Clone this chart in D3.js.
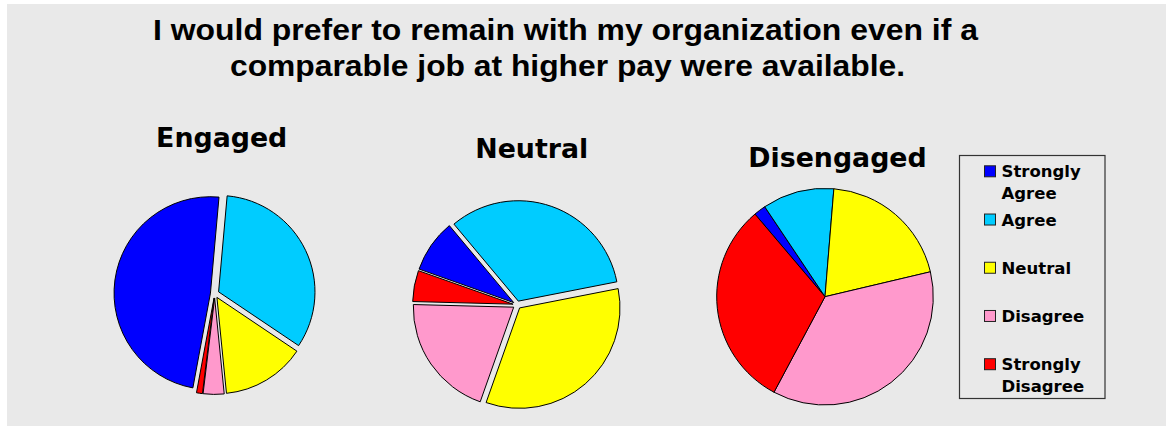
<!DOCTYPE html>
<html>
<head>
<meta charset="utf-8">
<script src="https://cdn.jsdelivr.net/npm/d3@7"></script>
<style>
  html, body { margin: 0; padding: 0; background: #ffffff; }
  svg { display: block; }
</style>
</head>
<body>
<svg id="chart" width="1173" height="431"></svg>
<script>
// Survey answers, in drawing order (clockwise)
const categories = ["Strongly Agree", "Agree", "Neutral", "Disagree", "Strongly Disagree"];
const legendLines = [["Strongly", "Agree"], ["Agree"], ["Neutral"], ["Disagree"], ["Strongly", "Disagree"]];
const colors = ["#0000ff", "#00ccff", "#ffff00", "#ff99cc", "#ff0000"];

// Percent of respondents per answer, one array per group
const groupNames = ["Engaged", "Neutral", "Disengaged"];
const engagedValues = [48.5, 33, 14, 3.5, 1];
const neutralValues = [8.5, 33, 33.5, 20, 5];
const disengagedValues = [1.8, 10.7, 20, 36.5, 31];

const titleLines = [
  "I would prefer to remain with my organization even if a",
  "comparable job at higher pay were available."
];

// Layout of each pie: centre, radius, slice explosion, first-slice angle (deg), label placement
const pieLayout = [
  { cx: 214.7, cy: 293.7, r: 96.4, explode: 4.3, start: -169.5, lx: 221.7, ly: 147 },
  { cx: 517.0, cy: 304.9, r: 100.4, explode: 4.0, start: -70.5, lx: 531.7, ly: 158.3 },
  { cx: 825.0, cy: 296.7, r: 108.3, explode: 0, start: -40.3, lx: 837.5, ly: 167.3 }
];
const groupValues = [engagedValues, neutralValues, disengagedValues];

const svg = d3.select("#chart");

// Grey chart area
svg.append("rect")
  .attr("x", 7).attr("y", 4)
  .attr("width", 1159).attr("height", 422)
  .attr("fill", "#e9e9e9");

// Main title
const titleSizes = [{ y: 40, len: 825, cx: 565.5 }, { y: 75.5, len: 675, cx: 567.5 }];
svg.selectAll("text.title")
  .data(titleLines)
  .join("text")
  .attr("class", "title")
  .attr("x", (d, i) => titleSizes[i].cx)
  .attr("y", (d, i) => titleSizes[i].y)
  .attr("text-anchor", "middle")
  .attr("textLength", (d, i) => titleSizes[i].len)
  .attr("lengthAdjust", "spacingAndGlyphs")
  .style("font-family", "'Liberation Sans', Arial, sans-serif")
  .style("font-weight", "bold")
  .style("font-size", "29px")
  .attr("fill", "#000")
  .text(d => d);

const color = d3.scaleOrdinal().domain(categories).range(colors);
const toRad = deg => deg * Math.PI / 180;

groupNames.forEach((name, gi) => {
  const L = pieLayout[gi];
  const pie = d3.pie()
    .sort(null)
    .value(d => d.value)
    .startAngle(toRad(L.start))
    .endAngle(toRad(L.start) + 2 * Math.PI);
  const arc = d3.arc().innerRadius(0).outerRadius(L.r);
  const data = categories.map((c, i) => ({ cat: c, value: groupValues[gi][i] }));

  const g = svg.append("g").attr("transform", `translate(${L.cx},${L.cy})`);
  g.selectAll("path")
    .data(pie(data))
    .join("path")
    .attr("d", arc)
    .attr("transform", d => {
      const mid = (d.startAngle + d.endAngle) / 2;
      return `translate(${L.explode * Math.sin(mid)},${-L.explode * Math.cos(mid)})`;
    })
    .attr("fill", d => color(d.data.cat))
    .attr("stroke", "#000")
    .attr("stroke-width", 1)
    .attr("stroke-linejoin", "round");

  svg.append("text")
    .attr("x", L.lx)
    .attr("y", L.ly)
    .attr("text-anchor", "middle")
    .style("font-family", "'DejaVu Sans', Verdana, sans-serif")
    .style("font-weight", "bold")
    .style("font-size", "26.8px")
    .attr("fill", "#000")
    .text(name);
});

// Legend
const legend = svg.append("g");
legend.append("rect")
  .attr("x", 959.5).attr("y", 155.5)
  .attr("width", 145.5).attr("height", 243)
  .attr("fill", "none")
  .attr("stroke", "#333")
  .attr("stroke-width", 1.2);

const legendY = d3.scalePoint().domain(categories).range([171.3, 364.2]);
const items = legend.selectAll("g.item")
  .data(categories)
  .join("g")
  .attr("class", "item")
  .attr("transform", d => `translate(0,${legendY(d)})`);

items.append("rect")
  .attr("x", 984.5).attr("y", -5.5)
  .attr("width", 11).attr("height", 11)
  .attr("fill", d => color(d))
  .attr("stroke", "#222")
  .attr("stroke-width", 1);

items.append("text")
  .attr("x", 1001.5)
  .attr("y", 6)
  .style("font-family", "'DejaVu Sans', Verdana, sans-serif")
  .style("font-weight", "bold")
  .style("font-size", "16.5px")
  .attr("fill", "#000")
  .selectAll("tspan")
  .data((d, i) => legendLines[i])
  .join("tspan")
  .attr("x", 1001.5)
  .attr("dy", (d, i) => i === 0 ? 0 : 21.5)
  .text(d => d);
</script>
</body>
</html>
